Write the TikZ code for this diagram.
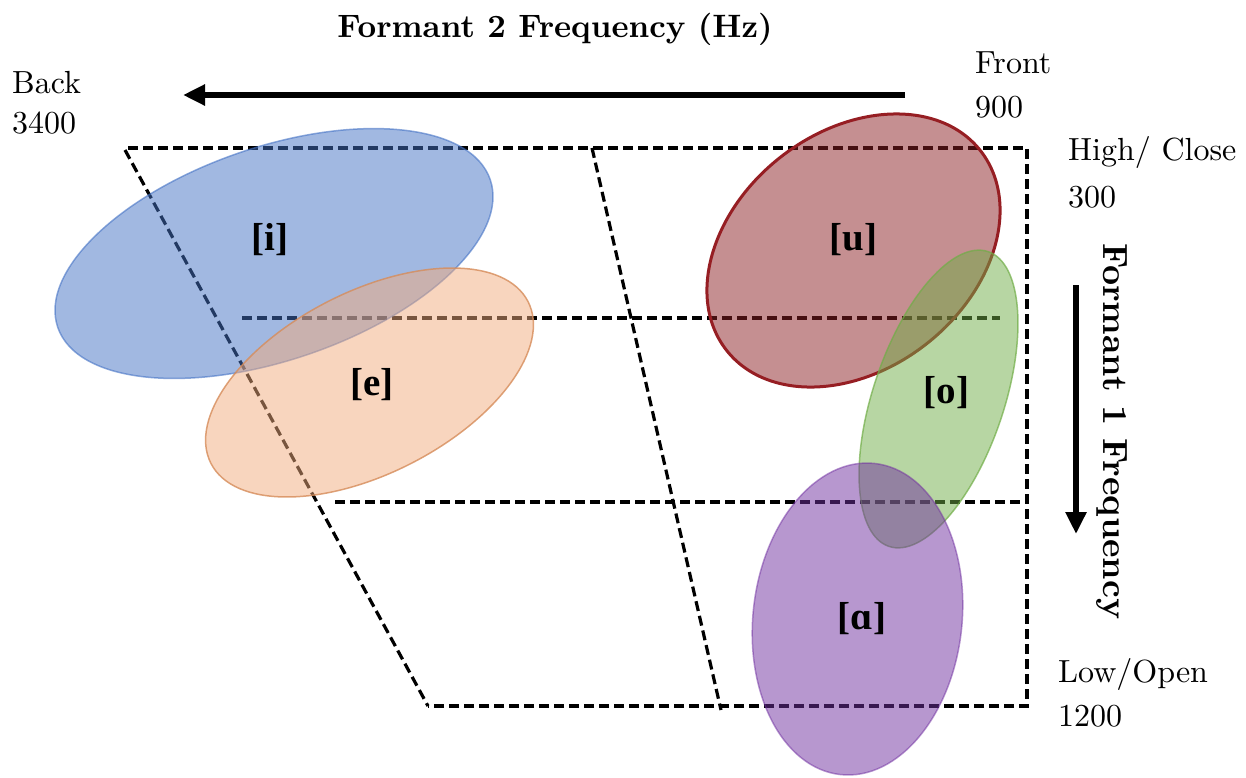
\documentclass[tikz,border=0pt]{standalone}
\usepackage{fontspec}
\setmainfont{lmroman10-regular.otf}[BoldFont=lmroman10-bold.otf]
\usetikzlibrary{arrows.meta,shapes.geometric}
\newfontfamily\vowelfont{Liberation Serif}
\definecolor{cBlue}{RGB}{68,114,196}
\definecolor{cOrange}{RGB}{241,171,125}
\definecolor{cOrangeB}{RGB}{214,140,90}
\definecolor{cRed}{RGB}{139,31,35}
\definecolor{cRedB}{RGB}{150,30,35}
\definecolor{cGreen}{RGB}{112,173,71}
\definecolor{cPurple}{RGB}{112,48,160}
\begin{document}
\begin{tikzpicture}[x=1pt,y=-1pt,
  vowel/.style={ellipse, inner sep=0pt, fill opacity=0.5},
  vlabel/.style={font=\vowelfont\bfseries\fontsize{39}{42}\selectfont, inner sep=0pt},
  axislabel/.style={font=\fontsize{32}{36}\selectfont, inner sep=0pt, anchor=base west},
  axistitle/.style={font=\bfseries\fontsize{32.4}{36}\selectfont, inner sep=0pt},
  gridline/.style={line width=3.2pt, dash pattern=on 10pt off 5pt},
  bigarrow/.style={line width=6pt, -{Triangle[length=22pt,width=20pt]}}
]
\useasboundingbox (0,0) rectangle (1246,777);
% grid corners
\coordinate (TL) at (125,150);
\coordinate (TLh) at (128,148);
\coordinate (TM) at (592,148);
\coordinate (TR) at (1027,148);
\coordinate (BR) at (1027,706);
\coordinate (BM) at (721,710);
\coordinate (BL) at (428,706);
\coordinate (H1a) at (242,318);
\coordinate (H1b) at (1000,318);
\coordinate (H2a) at (335,502);
\coordinate (H2b) at (1027,502);
\draw[gridline] (TLh) -- (TR) -- (BR) -- (BL);
\draw[gridline] (TL) -- (BL);
\draw[gridline] (TM) -- (BM);
\draw[gridline] (H1a) -- (H1b);
\draw[gridline] (H2a) -- (H2b);
% vowel regions
\node[vowel, fill=cBlue, draw=cBlue, draw opacity=0.6, line width=1.5pt,
  minimum width=457pt, minimum height=213pt, rotate=18.85] (ei) at (274,253.5) {};
\node[vowel, fill=cOrange, draw=cOrangeB, draw opacity=0.8, line width=1.5pt,
  minimum width=356pt, minimum height=182pt, rotate=27] (ee) at (369.5,382.5) {};
\node[vowel, fill=cRed, draw=cRedB, line width=3pt,
  minimum width=323pt, minimum height=237pt, rotate=38.2] (eu) at (853.5,250.5) {};
\node[vowel, fill=cGreen, draw=cGreen, draw opacity=0.7, line width=1.5pt,
  minimum width=311pt, minimum height=131pt, rotate=71.4] (eo) at (938.5,399) {};
\node[vowel, fill=cPurple, draw=cPurple, draw opacity=0.5, line width=1.5pt,
  minimum width=313pt, minimum height=209pt, rotate=83.7] (ea) at (857.5,619) {};
% vowel labels
\node[vlabel] (li) at (270,240) {[i]};
\node[vlabel] (le) at (372,385) {[e]};
\node[vlabel] (lu) at (853.5,239.5) {[u]};
\node[vlabel] (lo) at (946.5,392.5) {[o]};
\node[vlabel] (la) at (862,619) {[ɑ]};
% axes
\coordinate (a2s) at (905,95);
\coordinate (a2e) at (183,95);
\draw[bigarrow] (a2s) -- (a2e);
\coordinate (a1s) at (1076,285);
\coordinate (a1e) at (1076,534);
\draw[bigarrow] (a1s) -- (a1e);
\node[axistitle, anchor=base] (t2) at (555,37) {Formant 2 Frequency (Hz)};
\node[axistitle, font=\bfseries\fontsize{35}{38}\selectfont, rotate=-90, anchor=base west] (t1) at (1103,243) {Formant 1 Frequency};
% axis end labels
\node[axislabel] (back) at (12,93) {Back};
\node[axislabel] (b3400) at (12,133) {3400};
\node[axislabel] (front) at (975,73) {Front};
\node[axislabel] (f900) at (975,117) {900};
\node[axislabel] (high) at (1068,160) {High/ Close};
\node[axislabel] (h300) at (1068,207) {300};
\node[axislabel] (low) at (1058,682) {Low/Open};
\node[axislabel] (l1200) at (1058,726) {1200};
\end{tikzpicture}
\end{document}
